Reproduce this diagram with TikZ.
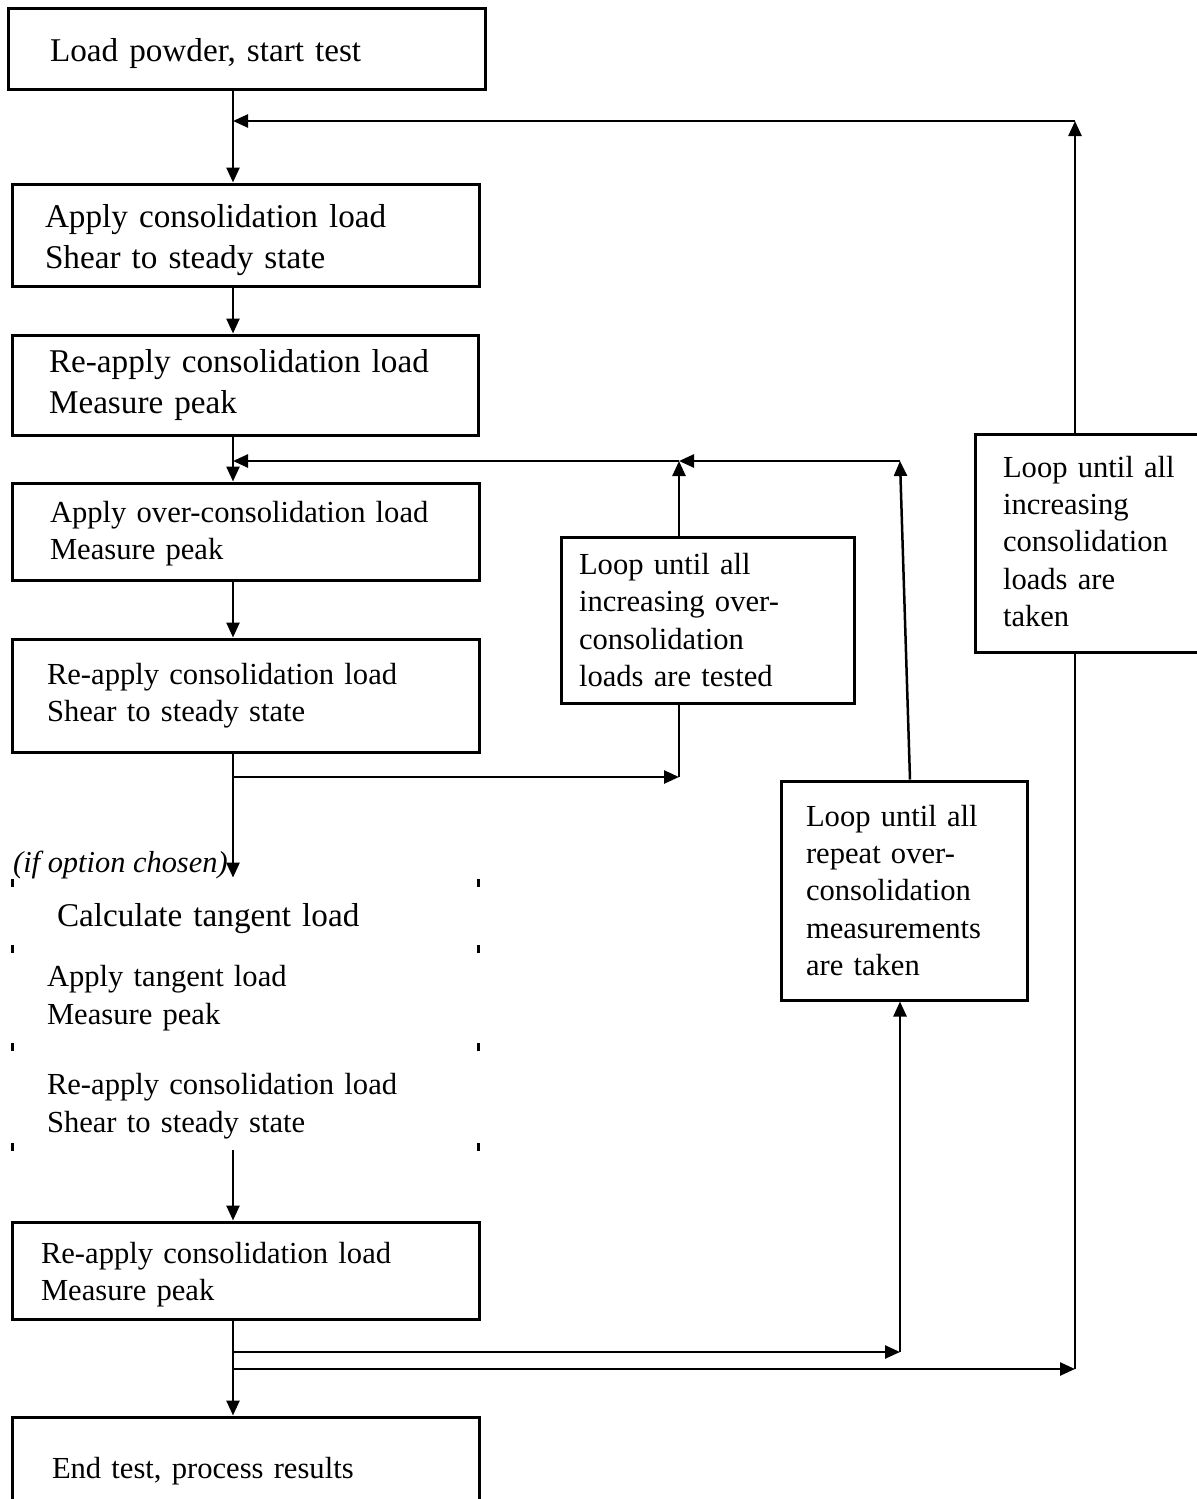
\documentclass[tikz,border=0pt]{standalone}
\usepackage{fontspec}
\setmainfont{Liberation Serif}
\usetikzlibrary{arrows.meta}
\hyphenpenalty=10000
\tikzset{box/.style={rectangle,draw,line width=1.5pt,align=left,inner ysep=0pt}}
\tikzset{plain/.style={rectangle,align=left,inner ysep=0pt}}
\tikzset{big/.style={font=\fontsize{16.6}{20.5}\selectfont}}
\tikzset{small/.style={font=\fontsize{15.3}{18.7}\selectfont}}
\tikzset{link/.style={line width=1.25pt}}
\tikzset{tick/.style={line width=1.5pt}}

\begin{document}
\begin{tikzpicture}[x=0.5pt,y=-0.5pt,>={Triangle[length=7.5pt,width=6.5pt]}]
    \useasboundingbox (0,0) rectangle (1196,1499);

    \node[box,big,minimum height=40.5pt,text width=196.5pt,inner xsep=21pt,text height=17pt] (start)at (246.5,48.5) {Load powder, start test};
    \node[box,big,minimum height=51pt,text width=200.5pt,inner xsep=16.5pt,text height=17pt] (consol)at (245.5,235) {Apply consolidation load\\Shear to steady state};
    \node[box,big,minimum height=50pt,text width=196pt,inner xsep=18.5pt] (peakA)at (245,385) {Re-apply consolidation load\\Measure peak};
    \node[box,small,minimum height=48.5pt,text width=195.5pt,inner xsep=19pt,text height=12.5pt] (overc)at (245.5,531.5) {Apply over-consolidation load\\Measure peak};
    \node[box,small,minimum height=56.5pt,text width=198.5pt,inner xsep=17.5pt] (steadyA)at (245.5,695.5) {Re-apply consolidation load\\Shear to steady state};

    \node[font=\fontsize{15.2}{18}\selectfont\itshape,anchor=base east,inner sep=0pt] (opt)at (228,872) {(if option chosen)};

    \node[plain,big,minimum height=33pt,text width=188pt,inner xsep=22.5pt] (calc)at (245,919) {Calculate tangent load};
    \node[plain,small,minimum height=49pt,text width=198pt,inner xsep=17.5pt] (tapply)at (245,998) {Apply tangent load\\Measure peak};
    \node[plain,small,minimum height=50pt,text width=198pt,inner xsep=17.5pt] (tsteady)at (245,1106) {Re-apply consolidation load\\Shear to steady state};

    \node[box,small,minimum height=48.5pt,text width=204.5pt,inner xsep=14.5pt,text height=14.5pt] (peakB)at (245.5,1270.5) {Re-apply consolidation load\\Measure peak};
    \node[box,small,minimum height=51pt,text width=193.5pt,inner xsep=20pt,text height=13.5pt] (finish)at (245.5,1468) {End test, process results};

    \node[box,small,minimum height=83pt,text width=128.5pt,inner xsep=9pt] (loopA)at (707.5,620) {Loop until all\\increasing over-\\consolidation\\loads are tested};
    \node[box,small,minimum height=109.5pt,text width=98pt,inner xsep=12.5pt] (loopB)at (904,890.5) {Loop until all\\repeat over-\\consolidation\\measurements\\are taken};
    \node[box,small,minimum height=109pt,text width=95pt,inner xsep=14pt,text height=9pt] (loopC)at (1098,543) {Loop until all\\increasing\\consolidation\\loads are\\taken};

    \foreach \y in {882,948,1046,1146}{
        \draw[tick] (12,\y-3) -- (12,\y+5);
        \draw[tick] (478,\y-3) -- (478,\y+5);
    }

    \coordinate (spine)at (233,0);
    \coordinate (topret)at (1075,121);
    \coordinate (midA)at (679,461);
    \coordinate (midB)at (900,461);
    \coordinate (outA)at (679,777);
    \coordinate (outB)at (900,1352);
    \coordinate (outC)at (1075,1369);

    \draw[link,->] (start.south -| spine) -- (consol.north -| spine);
    \draw[link,->] (loopC.north -| topret) -- (topret);
    \draw[link,->] (topret) -- (topret -| spine);
    \draw[link,->] (consol.south -| spine) -- (peakA.north -| spine);
    \draw[link,->] (peakA.south -| spine) -- (overc.north -| spine);
    \draw[link,->] (loopA.north -| midA) -- (midA);
    \draw[link,->] ([xshift=3pt]loopB.north) -- (midB);
    \draw[link,->] (midB) -- (midA);
    \draw[link,->] (midA) -- (midA -| spine);
    \draw[link,->] (overc.south -| spine) -- (steadyA.north -| spine);
    \draw[link,->] (steadyA.south -| spine) -- ([yshift=4pt]calc.north -| spine);
    \draw[link] (loopA.south -| outA) -- (outA);
    \draw[link,->] (outA -| spine) -- (outA);
    \draw[link,->] ([yshift=3pt]tsteady.south -| spine) -- (peakB.north -| spine);
    \draw[link,->] (peakB.south -| spine) -- (finish.north -| spine);
    \draw[link,->] (outB -| spine) -- (outB);
    \draw[link,->] (outB) -- (outB |- loopB.south);
    \draw[link,->] (outC -| spine) -- (outC);
    \draw[link] (loopC.south -| outC) -- (outC);
\end{tikzpicture}
\end{document}
